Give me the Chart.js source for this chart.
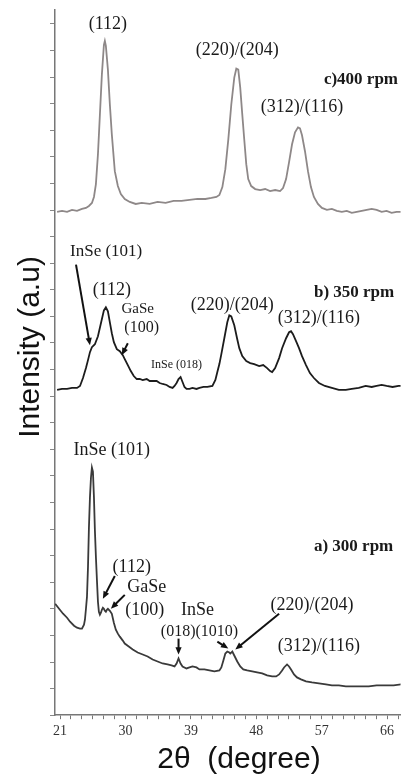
<!DOCTYPE html>
<html>
<head>
<meta charset="utf-8">
<script src="https://cdn.jsdelivr.net/npm/chart.js@4.4.1/dist/chart.umd.min.js"></script>
<style>
  html, body { margin: 0; padding: 0; background: #fff; }
  canvas { display: block; }
</style>
</head>
<body>
<canvas id="xrdChart" width="402" height="776"></canvas>
<script>
// 2theta (degree) and intensity (a.u.), stacked with offsets
const angles400 = [20.59, 21.27, 21.96, 22.64, 23.33, 24.01, 24.56, 24.97, 25.38, 25.66, 25.93, 26.21, 26.48, 26.75, 27.03, 27.16, 27.30, 27.58, 27.85, 28.12, 28.53, 28.95, 29.36, 29.90, 30.59, 31.41, 32.23, 33.33, 34.42, 35.52, 36.62, 37.71, 38.81, 39.90, 41.00, 41.82, 42.51, 42.92, 43.33, 43.74, 44.15, 44.56, 44.97, 45.25, 45.52, 45.79, 46.07, 46.34, 46.62, 46.89, 47.30, 47.85, 48.53, 49.22, 49.90, 50.59, 51.27, 51.68, 52.10, 52.51, 52.92, 53.33, 53.74, 54.01, 54.29, 54.70, 55.11, 55.52, 55.93, 56.48, 57.03, 57.71, 58.40, 59.08, 59.77, 60.45, 61.14, 61.82, 62.51, 63.19, 63.88, 64.56, 65.25, 65.93, 66.62, 67.30, 67.99];
const counts400 = [506, 507, 506, 508, 507, 509, 510, 512, 515, 521, 534, 564, 604, 644, 674, 678, 673, 649, 614, 584, 547, 532, 524, 519, 516, 514, 515, 514, 516, 515, 517, 517, 518, 519, 519, 520, 521, 523, 531, 549, 579, 614, 641, 650, 649, 631, 604, 579, 554, 539, 532, 529, 528, 529, 527, 528, 527, 530, 539, 556, 574, 586, 591, 590, 583, 567, 547, 531, 521, 514, 510, 508, 509, 507, 506, 507, 505, 506, 507, 508, 509, 508, 506, 507, 505, 506, 506];

const angles350 = [20.59, 21.27, 21.96, 22.64, 23.33, 23.74, 24.15, 24.56, 24.84, 25.11, 25.38, 25.79, 26.21, 26.62, 27.03, 27.30, 27.58, 27.85, 28.12, 28.40, 28.81, 29.22, 29.63, 29.90, 30.32, 30.73, 31.14, 31.55, 31.96, 32.37, 32.92, 33.33, 33.74, 34.29, 34.70, 35.11, 35.66, 36.07, 36.48, 36.75, 37.03, 37.30, 37.58, 37.85, 38.12, 38.40, 38.81, 39.22, 39.77, 40.18, 40.73, 41.27, 41.96, 42.37, 42.64, 42.92, 43.19, 43.60, 44.01, 44.29, 44.56, 44.97, 45.38, 45.66, 46.07, 46.62, 47.16, 47.71, 48.40, 48.95, 49.49, 49.90, 50.18, 50.59, 51.14, 51.55, 52.10, 52.51, 52.78, 53.05, 53.47, 53.88, 54.29, 54.84, 55.38, 55.93, 56.62, 57.44, 58.40, 59.36, 60.32, 61.14, 62.10, 63.05, 63.88, 64.56, 65.25, 65.93, 66.75, 67.58, 67.99];
const counts350 = [327, 328, 328, 329, 329, 331, 339, 349, 357, 365, 370, 373, 381, 394, 407, 410, 406, 395, 384, 375, 368, 366, 362, 358, 352, 346, 341, 338, 338, 337, 338, 336, 336, 336, 334, 333, 332, 330, 329, 331, 334, 338, 340, 335, 330, 328, 328, 329, 328, 329, 330, 330, 331, 337, 345, 353, 363, 379, 395, 402, 401, 392, 378, 369, 361, 356, 354, 353, 351, 352, 349, 346, 345, 349, 359, 369, 379, 385, 386, 383, 376, 369, 361, 352, 344, 339, 334, 331, 329, 327, 327, 328, 329, 331, 330, 331, 332, 331, 330, 331, 331];

const angles300 = [20.32, 20.86, 21.41, 21.96, 22.37, 22.92, 23.33, 23.74, 24.01, 24.29, 24.42, 24.56, 24.70, 24.84, 24.97, 25.11, 25.25, 25.38, 25.52, 25.66, 25.79, 25.93, 26.07, 26.21, 26.34, 26.48, 26.62, 26.75, 26.89, 27.03, 27.16, 27.30, 27.44, 27.58, 27.85, 28.12, 28.40, 28.67, 28.95, 29.22, 29.63, 29.90, 30.45, 31.00, 31.68, 32.37, 33.05, 33.74, 34.42, 35.11, 35.79, 36.34, 36.75, 37.03, 37.30, 37.58, 37.85, 38.40, 38.81, 39.22, 39.77, 40.18, 40.86, 41.55, 42.23, 42.92, 43.19, 43.47, 43.74, 44.01, 44.29, 44.42, 44.70, 44.97, 45.38, 45.79, 46.21, 46.75, 47.44, 48.12, 48.81, 49.49, 50.18, 50.73, 51.14, 51.55, 51.82, 52.23, 52.51, 52.78, 53.19, 53.60, 54.15, 54.84, 55.66, 56.62, 57.58, 58.40, 59.36, 60.32, 61.41, 62.37, 63.47, 64.56, 65.79, 66.89, 67.99];
const counts300 = [112, 107, 102, 98, 94, 90, 88, 87, 87, 91, 96, 107, 119, 149, 189, 219, 239, 249, 245, 219, 186, 159, 136, 114, 104, 101, 103, 106, 108, 107, 105, 104, 106, 107, 105, 102, 93, 86, 82, 79, 75, 72, 69, 66, 63, 61, 59, 56, 54, 52, 51, 50, 49, 52, 57, 52, 49, 47, 48, 49, 48, 46, 46, 45, 44, 45, 48, 55, 62, 64, 63, 62, 64, 60, 54, 49, 46, 45, 44, 43, 42, 40, 39, 39, 41, 45, 48, 51, 49, 46, 41, 38, 36, 34, 33, 32, 31, 30, 30, 29, 29, 29, 29, 30, 30, 30, 31];

const xTickLabels = [21, 30, 39, 48, 57, 66];

// peak labels, placed in data coordinates (2theta, intensity)
const peakLabels = [
  { text: '(112)', x: 27.58, y: 695, size: 18 },
  { text: '(220)/(204)', x: 45.38, y: 669, size: 18 },
  { text: 'c)400 rpm', x: 57.30, y: 639, size: 17, bold: true, align: 'left' },
  { text: '(312)/(116)', x: 54.29, y: 611, size: 18 },

  { text: 'InSe (101)', x: 22.37, y: 466, size: 17, align: 'left' },
  { text: '(112)', x: 28.12, y: 427, size: 18 },
  { text: 'GaSe', x: 31.68, y: 408, size: 15 },
  { text: '(100)', x: 32.23, y: 389, size: 16 },
  { text: 'InSe (018)', x: 37.03, y: 352, size: 12 },
  { text: '(220)/(204)', x: 44.70, y: 412, size: 18 },
  { text: 'b) 350 rpm', x: 55.93, y: 425, size: 17, bold: true, align: 'left' },
  { text: '(312)/(116)', x: 56.62, y: 399, size: 18 },

  { text: 'InSe (101)', x: 28.12, y: 266, size: 18 },
  { text: 'a) 300 rpm', x: 55.93, y: 169, size: 17, bold: true, align: 'left' },
  { text: '(112)', x: 30.86, y: 149, size: 18 },
  { text: 'GaSe', x: 32.92, y: 129, size: 18 },
  { text: '(100)', x: 32.64, y: 106, size: 18 },
  { text: 'InSe', x: 39.90, y: 106, size: 18 },
  { text: '(018)(1010)', x: 40.18, y: 84, size: 16 },
  { text: '(220)/(204)', x: 55.66, y: 111, size: 18 },
  { text: '(312)/(116)', x: 56.62, y: 69, size: 18 }
];

const arrows = [
  [23.19, 453, 25.11, 372],
  [30.32, 374, 29.49, 362],
  [28.53, 140, 26.89, 117],
  [29.90, 121, 27.99, 107],
  [37.30, 77, 37.30, 61],
  [42.64, 74, 44.15, 67],
  [51.14, 102, 45.11, 66]
];

function toPoints(xs, ys) {
  return xs.map((x, i) => ({ x: x, y: ys[i] }));
}

const annotate = {
  id: 'annotate',
  afterDraw(chart) {
    const { ctx, scales: { x, y } } = chart;
    ctx.save();
    ctx.fillStyle = '#1a1a1a';
    ctx.textBaseline = 'middle';
    peakLabels.forEach(l => {
      ctx.font = (l.bold ? 'bold ' : '') + l.size + 'px "Liberation Serif", "Times New Roman", serif';
      ctx.textAlign = l.align || 'center';
      ctx.fillText(l.text, x.getPixelForValue(l.x), y.getPixelForValue(l.y));
    });

    ctx.strokeStyle = '#111';
    ctx.fillStyle = '#111';
    ctx.lineWidth = 2;
    arrows.forEach(a => {
      const x0 = x.getPixelForValue(a[0]), y0 = y.getPixelForValue(a[1]);
      const x1 = x.getPixelForValue(a[2]), y1 = y.getPixelForValue(a[3]);
      const ang = Math.atan2(y1 - y0, x1 - x0);
      const head = 8;
      ctx.beginPath();
      ctx.moveTo(x0, y0);
      ctx.lineTo(x1 - head * 0.7 * Math.cos(ang), y1 - head * 0.7 * Math.sin(ang));
      ctx.stroke();
      ctx.beginPath();
      ctx.moveTo(x1, y1);
      ctx.lineTo(x1 - head * Math.cos(ang - 0.4), y1 - head * Math.sin(ang - 0.4));
      ctx.lineTo(x1 - head * Math.cos(ang + 0.4), y1 - head * Math.sin(ang + 0.4));
      ctx.closePath();
      ctx.fill();
    });

    // axis titles
    ctx.fillStyle = '#111';
    ctx.font = '30px "Liberation Sans", Arial, sans-serif';
    ctx.textAlign = 'center';
    ctx.textBaseline = 'alphabetic';
    ctx.fillText('2\u03b8  (degree)', 239, 768);
    ctx.translate(39, 347);
    ctx.rotate(-Math.PI / 2);
    ctx.fillText('Intensity (a.u)', 0, 0);
    ctx.restore();
  }
};

const ctx = document.getElementById('xrdChart');
const xrdChart = new Chart(ctx, {
  type: 'line',
  data: {
    datasets: [
      { label: 'c) 400 rpm', data: toPoints(angles400, counts400), borderColor: '#8e8888' },
      { label: 'b) 350 rpm', data: toPoints(angles350, counts350), borderColor: '#1c1c1c' },
      { label: 'a) 300 rpm', data: toPoints(angles300, counts300), borderColor: '#3a3a3a' }
    ]
  },
  options: {
    responsive: false,
    animation: false,
    layout: { padding: { left: 50, right: 0, top: 10, bottom: 32 } },
    elements: {
      line: { borderWidth: 1.8, tension: 0 },
      point: { radius: 0 }
    },
    plugins: {
      legend: { display: false },
      tooltip: { enabled: false }
    },
    scales: {
      x: {
        type: 'linear',
        min: 20.3,
        max: 67.85,
        afterBuildTicks: scale => {
          const ticks = [];
          for (let v = 21; v <= 67.5; v += 1.5) ticks.push({ value: v });
          scale.ticks = ticks;
        },
        ticks: {
          autoSkip: false,
          maxRotation: 0,
          padding: 4,
          color: '#333',
          font: { family: '"Liberation Serif", "Times New Roman", serif', size: 14 },
          callback: value => xTickLabels.includes(value) ? String(value) : ''
        },
        grid: { drawOnChartArea: false, tickLength: 4, color: '#777' },
        border: { color: '#777', width: 1.5 }
      },
      y: {
        min: 0,
        max: 709,
        ticks: { display: false, stepSize: 26.73, includeBounds: false },
        grid: { drawOnChartArea: false, tickLength: 5, color: '#888' },
        border: { color: '#777', width: 1.5 }
      }
    }
  },
  plugins: [annotate]
});
</script>
</body>
</html>
